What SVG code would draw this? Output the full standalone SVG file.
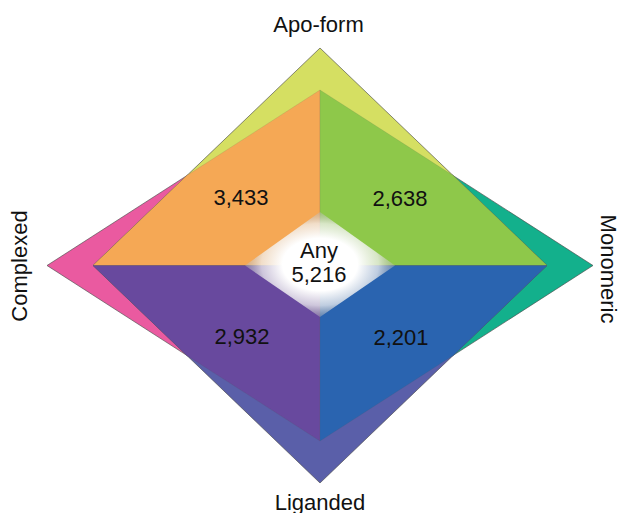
<svg xmlns="http://www.w3.org/2000/svg" width="620" height="513" viewBox="0 0 620 513">
<style>
.outer{stroke:#4a4a4a;stroke-width:0.8;stroke-opacity:0.8;stroke-linejoin:miter}
.inner{stroke:#555;stroke-width:0.4;stroke-opacity:0.35}
text{font-family:"Liberation Sans",Arial,sans-serif;font-size:22px;fill:#111;text-anchor:middle}
</style>
<defs>
<radialGradient id="glow" cx="0.5" cy="0.5" r="0.5">
<stop offset="0" stop-color="#fff" stop-opacity="1"/>
<stop offset="0.5" stop-color="#fff" stop-opacity="1"/>
<stop offset="0.78" stop-color="#f0f0f0" stop-opacity="0.75"/>
<stop offset="1" stop-color="#b5b5b5" stop-opacity="0.4"/>
</radialGradient>
</defs>
<rect width="620" height="513" fill="#fff"/>
<g id="outer-sets">
<polygon id="complexed" class="outer" fill="#ea5aa0" points="47,265.5 320,90 320,441"/>
<polygon id="monomeric" class="outer" fill="#13b08c" points="593,265.5 320,90 320,441"/>
<polygon id="apo-form" class="outer" fill="#d5df62" points="320,48 93,265.5 547,265.5"/>
<polygon id="liganded" class="outer" fill="#5a5fa9" points="320,483 93,265.5 547,265.5"/>
</g>
<g id="overlaps">
<polygon id="apo-complexed" class="inner" fill="#f5a855" points="320,90 186.8,175.6 93,265.5 320,265.5"/>
<polygon id="apo-monomeric" class="inner" fill="#8ec84a" points="320,90 453.2,175.6 547,265.5 320,265.5"/>
<polygon id="lig-complexed" class="inner" fill="#68499e" points="320,441 186.8,355.4 93,265.5 320,265.5"/>
<polygon id="lig-monomeric" class="inner" fill="#2a64b0" points="320,441 453.2,355.4 547,265.5 320,265.5"/>
</g>
<g id="any">
<polygon fill="url(#glow)" points="320,212 395,265.5 320,317 245,265.5"/>
<text x="319" y="258">Any</text>
<text x="319" y="281.5">5,216</text>
</g>
<g id="counts">
<text x="241" y="205">3,433</text>
<text x="400" y="205.5">2,638</text>
<text x="242" y="344">2,932</text>
<text x="401" y="344.5">2,201</text>
</g>
<g id="labels">
<text x="318.5" y="31.5">Apo-form</text>
<text x="320" y="509.5">Liganded</text>
<text transform="translate(27,266) rotate(-90)">Complexed</text>
<text transform="translate(601,269) rotate(90)">Monomeric</text>
</g>
</svg>
